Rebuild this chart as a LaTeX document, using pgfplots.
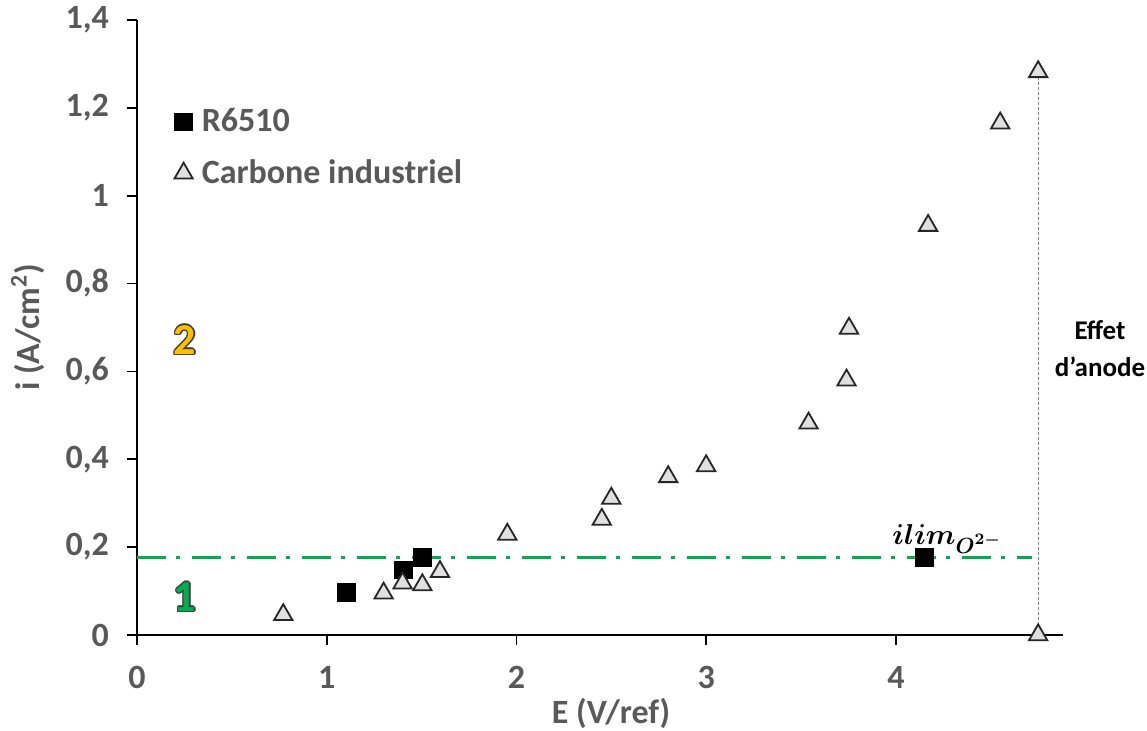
\documentclass[border=0pt]{standalone}
\usepackage{pgfplots}
\pgfplotsset{compat=1.18}
\usepackage{fontspec}
\setmainfont{Carlito}
\usepackage{amsmath}
\definecolor{txt}{HTML}{595959}
\definecolor{grn}{HTML}{00B050}
\definecolor{org}{HTML}{FFC000}
\tikzset{outl/.style={text=black!75, font=\fontsize{22}{24}\selectfont\bfseries}}
\newcommand{\ilimtext}{\ensuremath{\boldsymbol{ilim}_{\boldsymbol{O}^{\boldsymbol{2-}}}}}
\begin{document}
\begin{tikzpicture}
\begin{axis}[name=ax, scale only axis, width=463pt, height=307.5pt,
  xmin=0, xmax=4.881, ymin=0, ymax=1.4,
  axis lines=left, axis line style={-, line width=0.8pt, black},
  tick align=outside, major tick length=5pt, tick style={black, line width=0.8pt},
  xtick={0,1,2,3,4}, ytick={0,0.2,0.4,0.6,0.8,1,1.2,1.4},
  /pgf/number format/assume math mode=true,
  /pgf/number format/use comma, /pgf/number format/fixed,
  ticklabel style={font=\fontsize{17}{20}\selectfont\bfseries, text=txt},
  xticklabel style={yshift=-7pt},
  yticklabel style={xshift=-5.5pt},
  xlabel={E (V/ref)}, ylabel={i (A/cm\textsuperscript{2})},
  label style={font=\fontsize{17}{20}\selectfont\bfseries, text=txt},
  xlabel style={at={(axis description cs:0.512,-0.127)}, anchor=center},
  ylabel style={at={(axis description cs:-0.118,0.5)}, anchor=center},
  clip=false,
  legend cell align=left,
  legend style={at={(0.04,0.863)}, anchor=north west, draw=none, fill=none,
    font=\fontsize{17}{20}\selectfont\bfseries, text=txt, inner sep=0pt,
    row sep=8.5pt, nodes={inner sep=2pt},
    /tikz/every odd column/.append style={column sep=2.5pt}},
]
\addplot[forget plot, grn, line width=1.7pt, dash pattern=on 14.5pt off 5pt on 2pt off 6pt]
  coordinates {(0,0.177) (4.72,0.177)};
\addplot[forget plot, gray, line width=0.6pt, dash pattern=on 1.5pt off 1pt]
  coordinates {(4.75,0) (4.75,1.282)};
\addplot[only marks, mark=square*, mark size=4.4pt, mark options={fill=black, draw=black}]
  coordinates {(1.105,0.097) (1.404,0.148) (1.504,0.176) (4.15,0.176)};
\addlegendentry{R6510}
\addplot[only marks, mark=triangle*, mark size=5.3pt, mark options={fill=black!12, draw=black!85, line width=0.9pt}]
  coordinates {
  (0.771,0.046) (1.30,0.095) (1.40,0.118) (1.504,0.114) (1.597,0.144)
  (1.952,0.229) (2.45,0.263) (2.50,0.311) (2.80,0.360) (3.00,0.385)
  (3.54,0.482) (3.74,0.580) (3.753,0.698) (4.17,0.932) (4.55,1.165)
  (4.75,1.282) (4.75,0.0)};
\addlegendentry{Carbone industriel}
\coordinate (one) at (axis cs:0.253,0.0865);
\coordinate (two) at (axis cs:0.253,0.672);
\coordinate (ilim) at (axis cs:4.27,0.2185);
\coordinate (eff) at (axis cs:5.076,0.653);
\end{axis}
\foreach \dx/\dy in {0.7/0,-0.7/0,0/0.7,0/-0.7,0.5/0.5,0.5/-0.5,-0.5/0.5,-0.5/-0.5}{
  \node[outl] at ([shift={(\dx pt,\dy pt)}]one) {1};
  \node[outl] at ([shift={(\dx pt,\dy pt)}]two) {2};
}
\node[text=grn, font=\fontsize{22}{24}\selectfont\bfseries] at (one) {1};
\node[text=org, font=\fontsize{22}{24}\selectfont\bfseries] at (two) {2};
\node[font=\fontsize{15.5}{18}\selectfont] at (ilim) {\ilimtext};
\node[align=center, font=\fontsize{13.5}{18.5}\selectfont\bfseries, text=black] at (eff) {Effet\\d\textquoteright anode};
\pgfresetboundingbox
\path ([shift={(-68.5pt,-48pt)}]ax.south west) rectangle ([shift={(42pt,10pt)}]ax.north east);
\end{tikzpicture}
\end{document}
